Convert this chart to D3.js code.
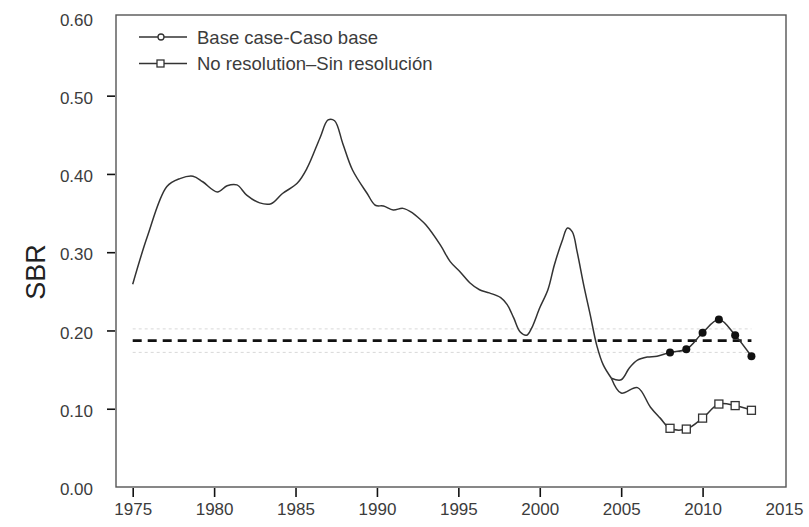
<!DOCTYPE html>
<html>
<head>
<meta charset="utf-8">
<script src="https://cdn.jsdelivr.net/npm/d3@7/dist/d3.min.js"></script>
<style>
  html, body { margin: 0; padding: 0; background: #fff; }
  svg { display: block; }
</style>
</head>
<body>
<svg id="chart" width="809" height="527"></svg>
<script>
// Spawning biomass ratio (SBR): shared history, then two projections
const histYears = [1975.0, 1975.9, 1977.1, 1977.9, 1978.7, 1979.3, 1980.2, 1980.8, 1981.4, 1982.0,
  1982.8, 1983.5, 1984.2, 1985.1, 1985.7, 1986.5, 1987.0, 1987.4, 1987.9, 1988.5,
  1989.4, 1989.9, 1990.4, 1991.0, 1991.6, 1992.2, 1992.6, 1993.0, 1993.9, 1994.5,
  1995.1, 1995.7, 1996.3, 1996.9, 1997.6, 1998.0, 1998.4, 1998.8, 1999.2, 1999.5,
  2000.0, 2000.5, 2000.9, 2001.4, 2001.7, 2002.0, 2002.3, 2002.7, 2003.1, 2003.5,
  2003.9, 2004.4];
const histSBR = [0.259, 0.320, 0.384, 0.394, 0.397, 0.390, 0.377, 0.385, 0.386, 0.373,
  0.363, 0.362, 0.375, 0.388, 0.407, 0.446, 0.469, 0.468, 0.439, 0.405,
  0.375, 0.360, 0.359, 0.354, 0.356, 0.350, 0.343, 0.335, 0.309, 0.288,
  0.275, 0.261, 0.252, 0.248, 0.242, 0.233, 0.216, 0.198, 0.194, 0.203,
  0.229, 0.252, 0.284, 0.316, 0.331, 0.326, 0.300, 0.258, 0.220, 0.181,
  0.156, 0.139];

const baseYears = [2004.4, 2005.0, 2005.5, 2006.0, 2006.6, 2007.2, 2008, 2009, 2010, 2011, 2012, 2013];
const baseSBR   = [0.139, 0.137, 0.152, 0.162, 0.166, 0.167, 0.172, 0.176, 0.197, 0.214, 0.194, 0.167];

const noResYears = [2004.4, 2005.0, 2006.0, 2006.8, 2007.4, 2008, 2009, 2010, 2011, 2012, 2013];
const noResSBR   = [0.139, 0.120, 0.127, 0.102, 0.088, 0.075, 0.074, 0.088, 0.106, 0.104, 0.098];

const markerYears = [2008, 2009, 2010, 2011, 2012, 2013];

// Reference level (dashed) and its faint bounds
const refYears = [1975, 2013];
const refSBR = 0.187;
const refBounds = [0.172, 0.202];

const xTicks = [1975, 1980, 1985, 1990, 1995, 2000, 2005, 2010, 2015];
const yTicks = [0.00, 0.10, 0.20, 0.30, 0.40, 0.50, 0.60];
const seriesNames = ["Base case-Caso base", "No resolution\u2013Sin resolución"];

const svg = d3.select("#chart");
const frame = { left: 116, right: 786, top: 15, bottom: 487 };

const x = d3.scaleLinear().domain([1975, 2015]).range([132.7, 784]);
const y = d3.scaleLinear().domain([0, 0.6]).range([487, 17.4]);

const ink = "#333";
const txt = "#3c3c3c";

// plot frame
svg.append("rect")
  .attr("x", frame.left).attr("y", frame.top)
  .attr("width", frame.right - frame.left).attr("height", frame.bottom - frame.top)
  .attr("fill", "none").attr("stroke", "#555").attr("stroke-width", 1.4);

// x axis: ticks below the frame
const xAxis = d3.axisBottom(x).tickValues(xTicks).tickSize(9).tickPadding(6).tickFormat(d3.format("d"));
const gx = svg.append("g").attr("transform", `translate(0,${frame.bottom + 1})`).call(xAxis);
gx.select(".domain").remove();
gx.selectAll(".tick line").attr("stroke", "#111").attr("stroke-width", 1.6)
  .filter(d => d === 2015).remove();
gx.selectAll(".tick text")
  .attr("font-family", "'Liberation Sans Narrow', 'Arial Narrow', sans-serif")
  .attr("font-size", 17).attr("fill", txt);

// y axis: ticks left of the frame
const yAxis = d3.axisLeft(y).tickValues(yTicks).tickSize(8).tickPadding(14).tickFormat(d3.format(".2f"));
const gy = svg.append("g").attr("transform", `translate(${frame.left - 1},0)`).call(yAxis);
gy.select(".domain").remove();
gy.selectAll(".tick line").attr("stroke", "#111").attr("stroke-width", 1.6)
  .filter(d => d === 0 || d === 0.6).remove();
gy.selectAll(".tick text")
  .attr("font-family", "'Liberation Sans Narrow', 'Arial Narrow', sans-serif")
  .attr("font-size", 17).attr("fill", txt).attr("dy", "0.45em");

// y title
svg.append("text")
  .attr("transform", `translate(45,${272}) rotate(-90)`)
  .attr("text-anchor", "middle")
  .attr("font-family", "'Liberation Sans', Arial, sans-serif")
  .attr("font-size", 27).attr("fill", "#222")
  .text("SBR");

// faint bounds around the reference level
refBounds.forEach(v => {
  svg.append("line")
    .attr("x1", x(refYears[0])).attr("x2", x(refYears[1]))
    .attr("y1", y(v)).attr("y2", y(v))
    .attr("stroke", "#d8d8d8").attr("stroke-width", 1)
    .attr("stroke-dasharray", "3,3");
});

// reference level
svg.append("line")
  .attr("x1", x(refYears[0])).attr("x2", x(refYears[1]))
  .attr("y1", y(refSBR)).attr("y2", y(refSBR))
  .attr("stroke", "#111").attr("stroke-width", 2.6)
  .attr("stroke-dasharray", "9,6");

const line = d3.line().x(d => x(d[0])).y(d => y(d[1])).curve(d3.curveCatmullRom.alpha(0.5));
const zip = (a, b) => a.map((v, i) => [v, b[i]]);

const lineStyle = sel => sel.attr("fill", "none").attr("stroke", ink).attr("stroke-width", 1.5)
  .attr("stroke-linejoin", "round");

svg.append("path").datum(zip(histYears, histSBR)).attr("d", line).call(lineStyle);
svg.append("path").datum(zip(noResYears, noResSBR)).attr("d", line).call(lineStyle);
svg.append("path").datum(zip(baseYears, baseSBR)).attr("d", line).call(lineStyle);

// markers on the projection years
const basePts = zip(baseYears, baseSBR).filter(d => markerYears.includes(d[0]));
const noResPts = zip(noResYears, noResSBR).filter(d => markerYears.includes(d[0]));

svg.selectAll("circle.base").data(basePts).join("circle")
  .attr("class", "base")
  .attr("cx", d => x(d[0])).attr("cy", d => y(d[1])).attr("r", 4)
  .attr("fill", "#111");

svg.selectAll("rect.nores").data(noResPts).join("rect")
  .attr("class", "nores")
  .attr("x", d => x(d[0]) - 4).attr("y", d => y(d[1]) - 4)
  .attr("width", 8).attr("height", 8)
  .attr("fill", "#fff").attr("stroke", ink).attr("stroke-width", 1.3);

// legend
const legend = svg.append("g");
const rows = [37, 63.5];
seriesNames.forEach((name, i) => {
  const ly = rows[i];
  legend.append("line").attr("x1", 139).attr("x2", 187).attr("y1", ly).attr("y2", ly)
    .attr("stroke", ink).attr("stroke-width", 1.5);
  if (i === 0) {
    legend.append("circle").attr("cx", 161).attr("cy", ly).attr("r", 3)
      .attr("fill", "#fff").attr("stroke", ink).attr("stroke-width", 1.3);
  } else {
    legend.append("rect").attr("x", 157).attr("y", ly - 3.5).attr("width", 7).attr("height", 7)
      .attr("fill", "#fff").attr("stroke", ink).attr("stroke-width", 1.3);
  }
  legend.append("text").attr("x", 197).attr("y", ly).attr("dy", "0.36em")
    .attr("font-family", "'Liberation Sans', Arial, sans-serif")
    .attr("font-size", 18.5).attr("fill", txt)
    .text(name);
});
</script>
</body>
</html>
